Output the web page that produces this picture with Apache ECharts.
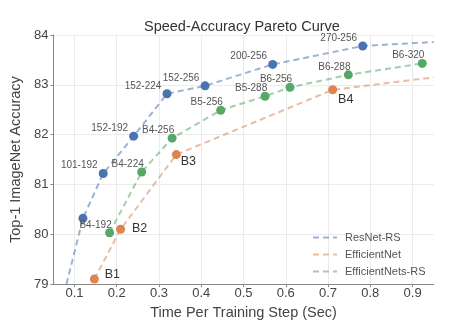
<!DOCTYPE html>
<html>
<head>
<meta charset="utf-8">
<script src="https://cdn.jsdelivr.net/npm/echarts@6/dist/echarts.min.js"></script>
<style>
  html, body { margin: 0; padding: 0; background: #fff; }
  #chart { width: 462px; height: 325px; }
</style>
</head>
<body>
<div id="chart"></div>
<script>
// ---- data ----
const resnetNames = ['', '101-192', '152-192', '152-224', '152-256', '200-256', '270-256'];
const resnetTime  = [0.120, 0.168, 0.240, 0.319, 0.409, 0.569, 0.782];
const resnetAcc   = [80.32, 81.22, 81.97, 82.82, 82.98, 83.41, 83.78];
// dashed trend continues past the measured models on both ends
const resnetTrendStart = [0.081, 79.0];
const resnetTrendEnd   = [0.95, 83.86];

const effNames = ['B1', 'B2', 'B3', 'B4'];
const effTime  = [0.147, 0.209, 0.341, 0.711];
const effAcc   = [79.1, 80.1, 81.6, 82.9];
const effTrendEnd = [0.95, 83.15];

const effrsNames = ['B4-192', 'B4-224', 'B4-256', 'B5-256', 'B5-288', 'B6-256', 'B6-288', 'B6-320'];
const effrsTime  = [0.183, 0.259, 0.331, 0.446, 0.551, 0.610, 0.748, 0.923];
const effrsAcc   = [80.03, 81.25, 81.93, 82.49, 82.77, 82.95, 83.20, 83.43];

const xTicks = [0.1, 0.2, 0.3, 0.4, 0.5, 0.6, 0.7, 0.8, 0.9];

// ---- style ----
const FONT = '"Liberation Sans", Arial, sans-serif';
const BLUE = '#4c72b0', ORANGE = '#dd8452', GREEN = '#55a868';
const effLabelOffsets = [[18, -5], [19, -1], [12, 7], [13, 10]];

function pairs(xs, ys) { return xs.map((x, i) => [x, ys[i]]); }

function trendSeries(name, color, data) {
  return {
    name, type: 'line', data, showSymbol: false, symbol: 'none',
    lineStyle: { color, width: 2, type: [6, 4], opacity: 0.55 },
    itemStyle: { color, opacity: 0.55 },
    silent: true, z: 2, clip: true
  };
}

function pointSeries(color, xs, ys, names, labelFn) {
  return {
    type: 'scatter', symbolSize: 9, z: 5,
    itemStyle: { color, opacity: 1 },
    data: xs.map((x, i) => ({
      value: [x, ys[i]], name: names[i],
      label: labelFn(i)
    }))
  };
}

const smallLabel = (dx) => (i) => ({
  show: true, position: 'inside', offset: [dx, -8],
  formatter: '{b}', color: '#555', fontSize: 10, fontFamily: FONT
});

const chart = echarts.init(document.getElementById('chart'), null, { renderer: 'canvas' });

chart.setOption({
  backgroundColor: '#fff',
  animation: false,
  title: {
    text: 'Speed-Accuracy Pareto Curve',
    left: 139, top: 14,
    textStyle: { fontFamily: FONT, fontSize: 14.5, fontWeight: 'normal', color: '#333' }
  },
  grid: { left: 47.7, right: 28.3, top: 35, bottom: 38.7 },
  legend: {
    orient: 'vertical', left: 307, top: 227,
    itemWidth: 24, itemHeight: 10, itemGap: 6,
    data: ['ResNet-RS', 'EfficientNet', 'EfficientNets-RS'],
    itemStyle: { opacity: 0 },
    textStyle: { fontFamily: FONT, fontSize: 11, color: '#555', padding: [0, 0, 0, 3] }
  },
  xAxis: {
    type: 'value', min: 0.05, max: 0.95,
    name: 'Time Per Training Step (Sec)', nameLocation: 'middle', nameGap: 14,
    nameTextStyle: { fontFamily: FONT, fontSize: 14.5, color: '#444' },
    axisLine: { show: true, lineStyle: { color: '#888', width: 1 } },
    axisTick: { show: true, length: 3, customValues: xTicks, lineStyle: { color: '#888' } },
    axisLabel: { customValues: xTicks, margin: 3, fontFamily: FONT, fontSize: 13, color: '#444',
                 formatter: (v) => v.toFixed(1) },
    splitLine: { show: true, lineStyle: { color: '#ebebeb', width: 1 } }
  },
  yAxis: {
    type: 'value', min: 79, max: 84, interval: 1,
    name: 'Top-1 ImageNet Accuracy', nameLocation: 'middle', nameGap: 19,
    nameTextStyle: { fontFamily: FONT, fontSize: 14.5, color: '#444' },
    axisLine: { show: true, lineStyle: { color: '#888', width: 1 } },
    axisTick: { show: true, length: 3, lineStyle: { color: '#888' } },
    axisLabel: { margin: 5, fontFamily: FONT, fontSize: 13, color: '#444' },
    splitLine: { show: true, lineStyle: { color: '#ebebeb', width: 1 } }
  },
  series: [
    trendSeries('ResNet-RS', BLUE,
      [resnetTrendStart].concat(pairs(resnetTime, resnetAcc), [resnetTrendEnd])),
    trendSeries('EfficientNet', ORANGE,
      pairs(effTime, effAcc).concat([effTrendEnd])),
    trendSeries('EfficientNets-RS', GREEN, pairs(effrsTime, effrsAcc)),
    pointSeries(BLUE, resnetTime, resnetAcc, resnetNames, smallLabel(-24)),
    pointSeries(ORANGE, effTime, effAcc, effNames, (i) => ({
      show: true, position: 'inside', offset: effLabelOffsets[i],
      formatter: '{b}', color: '#333', fontSize: 12.5, fontFamily: FONT
    })),
    pointSeries(GREEN, effrsTime, effrsAcc, effrsNames, smallLabel(-14))
  ]
});
</script>
</body>
</html>
